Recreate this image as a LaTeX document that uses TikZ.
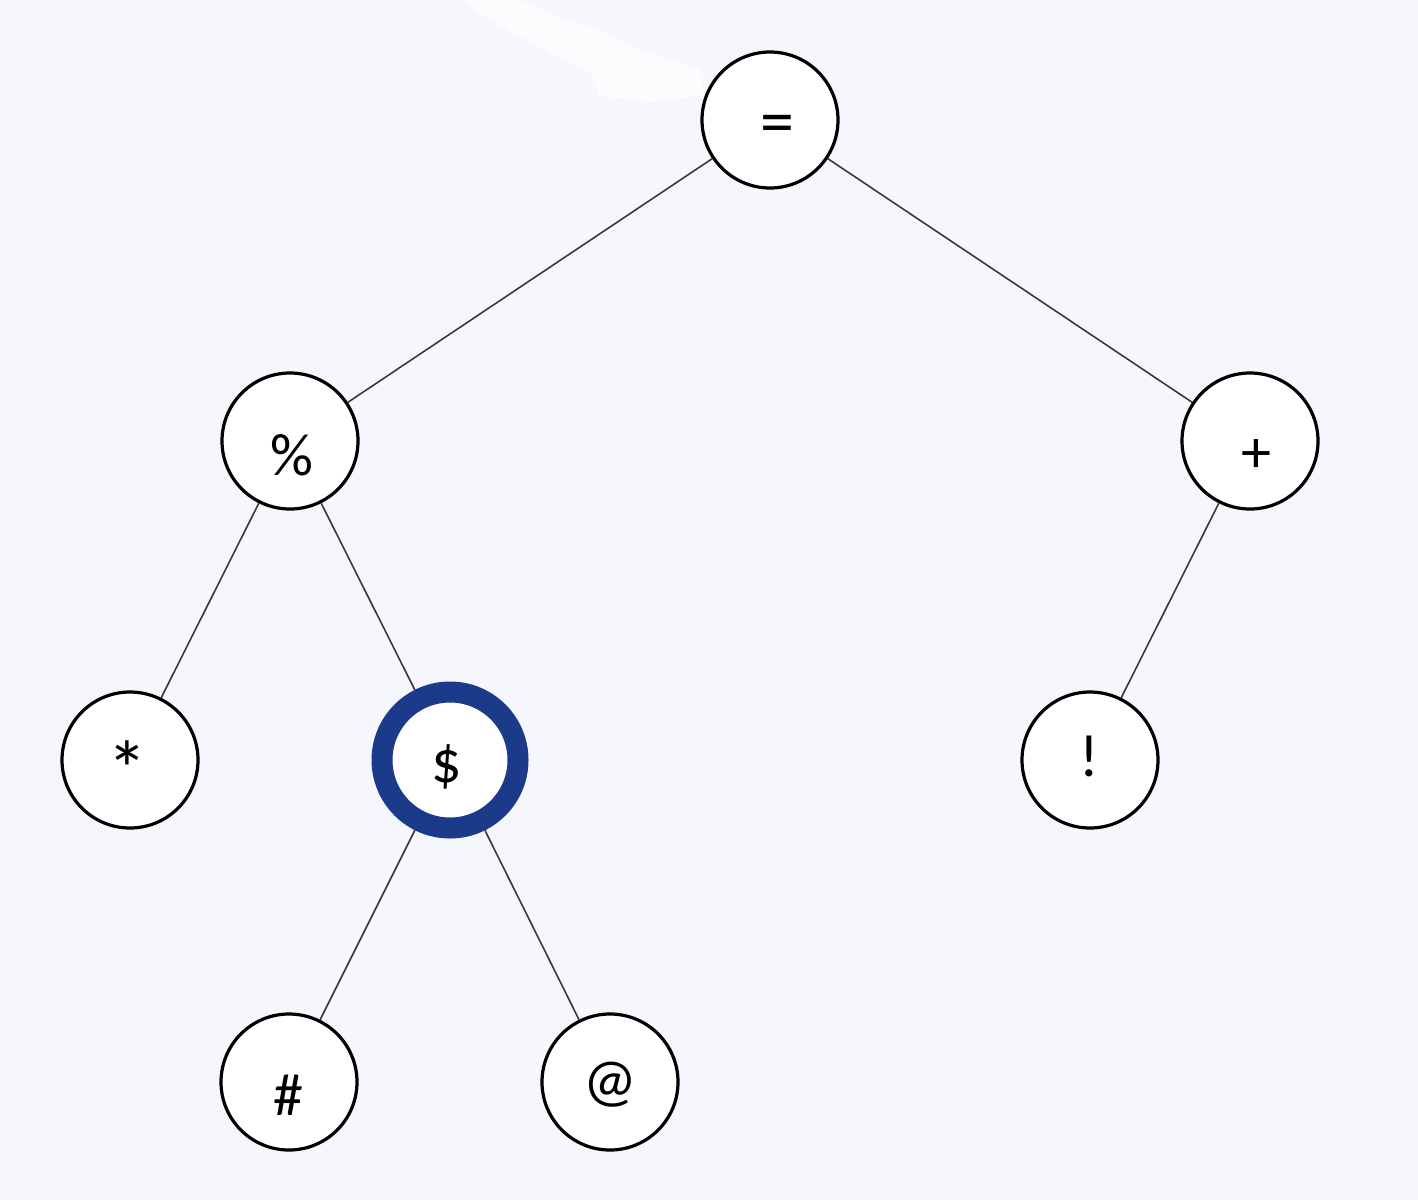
\documentclass[tikz,border=0pt]{standalone}
\usepackage{fontspec}
\setmainfont{Carlito}
\definecolor{bgc}{HTML}{F5F7FC}
\definecolor{ringblue}{HTML}{1B3A8A}
\definecolor{edgec}{HTML}{3A3A3A}
\tikzset{
  tnode/.style={circle, draw=black, line width=3.2pt, fill=white, minimum size=136pt, inner sep=0pt},
  hinode/.style={tnode, draw=ringblue, line width=21pt},
  sym/.style={inner sep=0pt, font=\fontsize{60}{60}\selectfont},
  edge/.style={draw=edgec, line width=1.6pt}
}
\begin{document}
\begin{tikzpicture}[x=1pt,y=-1pt]
\fill[bgc] (0,0) rectangle (1418,1200);
\useasboundingbox (0,0) rectangle (1418,1200);
% faint white smudge
\fill[white, opacity=0.75] (465,0) -- (520,0) -- (560,18) -- (600,30) -- (640,50) -- (700,70) -- (704,95) -- (650,102) -- (600,96) -- (590,72) -- (560,58) -- (520,36) -- (480,14) -- cycle;

\node[tnode] (eq) at (770,120) {};
\node[tnode] (pct) at (290,441) {};
\node[tnode] (plus) at (1250,441) {};
\node[tnode] (ast) at (130,760) {};
\node[hinode] (dol) at (450,760) {};
\node[tnode] (excl) at (1090,760) {};
\node[tnode] (hash) at (289,1082) {};
\node[tnode] (at) at (610,1082) {};

\draw[edge] (eq) -- (pct);
\draw[edge] (eq) -- (plus);
\draw[edge] (pct) -- (ast);
\draw[edge] (pct) -- (dol);
\draw[edge] (plus) -- (excl);
\draw[edge] (dol) -- (hash);
\draw[edge] (dol) -- (at);

\node[sym, font=\fontsize{68}{68}\selectfont] (teq) at (777,130) {=};
\node[sym] (tpct) at (292,455) {\%};
\node[sym] (tplus) at (1256,456) {+};
\node[sym, font=\fontsize{80}{80}\selectfont] (tast) at (127,769) {*};
\node[sym] (tdol) at (447,767) {\$};
\node[sym] (texcl) at (1089,756) {!};
\node[sym] (thash) at (288,1095) {\#};
\node[sym] (tat) at (610,1085) {@};
\end{tikzpicture}
\end{document}
